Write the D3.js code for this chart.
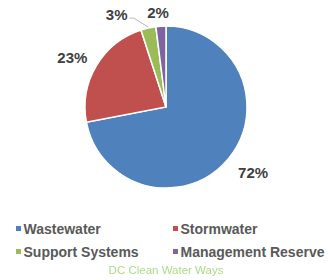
<!DOCTYPE html>
<html>
<head>
<meta charset="utf-8">
<script src="https://cdn.jsdelivr.net/npm/d3@7"></script>
<style>
body { margin: 0; background: #fff; }
svg { display: block; font-family: "Liberation Sans", Arial, sans-serif; }
</style>
</head>
<body>
<svg id="chart" width="330" height="280"></svg>
<script>
var categories = ["Wastewater", "Stormwater", "Support Systems", "Management Reserve"];
var values = [72, 23, 3, 2];
var labels = ["72%", "23%", "3%", "2%"];
var colors = ["#4F81BD", "#C0504D", "#9BBB59", "#8064A2"];

var width = 330;
var height = 280;
var cx = 166, cy = 107, radius = 81;

var svg = d3.select("#chart");

var data = categories.map(function (c, i) {
    return { key: c, y: values[i], label: labels[i], color: colors[i] };
});

var pie = d3.pie()
    .sort(null)
    .value(function (d) { return d.y; });

var arc = d3.arc().innerRadius(0).outerRadius(radius);

var g = svg.append("g").attr("transform", "translate(" + cx + "," + cy + ")");

var arcs = pie(data);

g.selectAll("path")
    .data(arcs)
    .enter().append("path")
    .attr("d", arc)
    .attr("fill", function (d) { return d.data.color; })
    .attr("stroke", "#fff")
    .attr("stroke-width", 1.5);

// label placement: radius factor plus a small nudge, per slice
var labelPos = [
    { r: 1.3, dx: 6, dy: -2 },
    { r: 1.3, dx: -3, dy: 4 },
    { r: 1.15, dx: -29, dy: -2 },
    { r: 1.17, dx: -2, dy: 0 }
];

arcs.forEach(function (d, i) {
    var a = (d.startAngle + d.endAngle) / 2;
    var p = labelPos[i];
    var x = Math.sin(a) * radius * p.r + p.dx;
    var y = -Math.cos(a) * radius * p.r + p.dy;
    if (i === 2) {
        // leader line for the small slice
        var ex = Math.sin(a) * (radius + 1);
        var ey = -Math.cos(a) * (radius + 1);
        g.append("polyline")
            .attr("points", [[x + 13, y + 4], [x + 17, y + 4], [ex, ey]].map(function (q) { return q.join(","); }).join(" "))
            .attr("fill", "none")
            .attr("stroke", "#A6A6A6")
            .attr("stroke-width", 0.8);
    }
    g.append("text")
        .attr("x", x)
        .attr("y", y)
        .attr("text-anchor", "middle")
        .attr("dominant-baseline", "central")
        .style("font-size", "15px")
        .style("font-weight", "bold")
        .style("fill", "#404040")
        .text(d.data.label);
});

// legend
var legX = [16, 173];
var legY = [229, 252];
var legend = svg.selectAll("g.leg")
    .data(data)
    .enter().append("g")
    .attr("class", "leg")
    .attr("transform", function (d, i) {
        return "translate(" + legX[i % 2] + "," + legY[Math.floor(i / 2)] + ")";
    });

legend.append("rect")
    .attr("x", 0)
    .attr("y", -3)
    .attr("width", 5)
    .attr("height", 5)
    .attr("fill", function (d) { return d.color; });

legend.append("text")
    .attr("x", 7.5)
    .attr("y", 0)
    .attr("dominant-baseline", "central")
    .style("font-size", "14px")
    .style("font-weight", "bold")
    .style("fill", "#595959")
    .text(function (d) { return d.key; });

// faded footer text
svg.append("defs").append("filter").attr("id", "blur")
    .append("feGaussianBlur").attr("stdDeviation", 0.6);
svg.append("text")
    .attr("x", 166)
    .attr("y", 274)
    .attr("text-anchor", "middle")
    .attr("filter", "url(#blur)")
    .style("font-size", "11.5px")
    .style("fill", "#9AD672")
    .style("opacity", 0.85)
    .text("DC Clean Water Ways");
</script>
</body>
</html>
